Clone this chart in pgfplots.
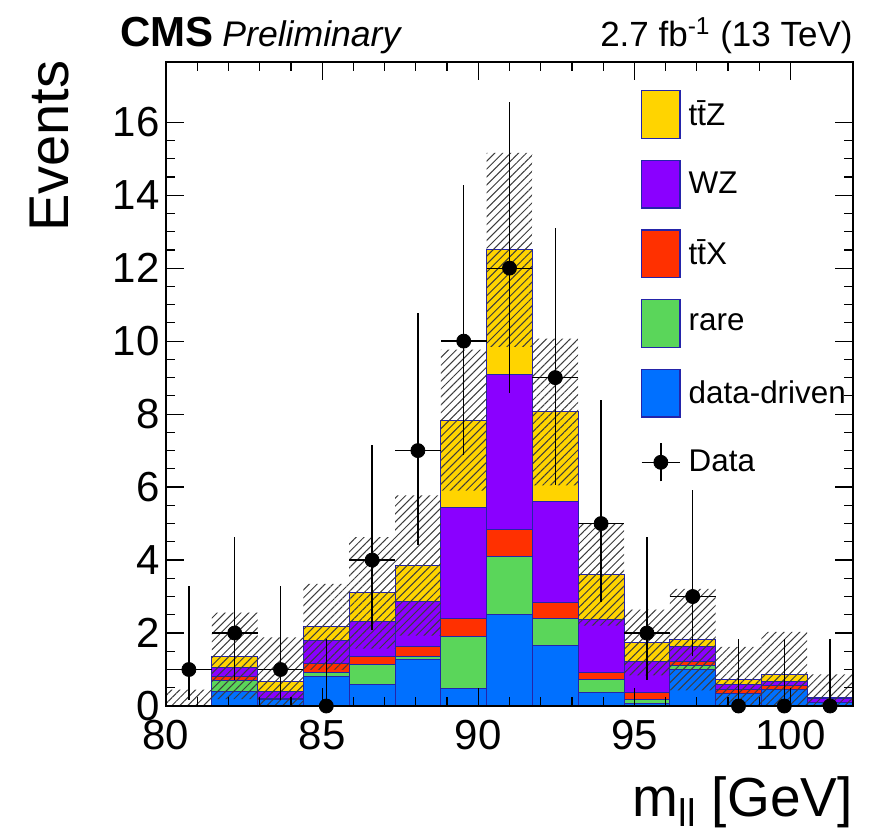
\documentclass[border=0pt]{standalone}
\usepackage{fontspec}
\setmainfont{Liberation Sans}
\usepackage{pgfplots}
\pgfplotsset{compat=1.18}
\usepackage{pgfplotstable}
\usetikzlibrary{patterns.meta}

\definecolor{cttz}{RGB}{255,212,0}
\definecolor{cwz}{RGB}{138,0,255}
\definecolor{cttx}{RGB}{255,48,0}
\definecolor{crare}{RGB}{90,214,90}
\definecolor{cdd}{RGB}{0,112,255}
\definecolor{edgeblue}{RGB}{36,36,170}
\definecolor{hatchgray}{RGB}{60,60,60}

% stacked backgrounds, per bin (bottom to top)
\pgfplotstableread{
x        dd   rare ttx  wz   ttz
80.7333  0.02 0.00 0.00 0.00 0.00
82.2000  0.40 0.29 0.12 0.25 0.31
83.6667  0.17 0.02 0.02 0.18 0.27
85.1333  0.82 0.09 0.26 0.63 0.37
86.6000  0.59 0.55 0.23 0.95 0.78
88.0667  1.28 0.07 0.27 1.25 0.98
89.5333  0.48 1.43 0.48 3.06 2.38
91.0000  2.50 1.60 0.73 4.26 3.41
92.4667  1.67 0.73 0.45 2.76 2.45
93.9333  0.36 0.37 0.18 1.46 1.23
95.4000  0.08 0.11 0.18 0.84 0.53
96.8667  1.01 0.09 0.11 0.43 0.18
98.3333  0.33 0.02 0.10 0.14 0.15
99.8000  0.44 0.01 0.10 0.11 0.21
101.2667 0.09 0.00 0.00 0.12 0.02
}\stack

% total uncertainty band
\pgfplotstableread{
x        lo   hi
80.7333  0.00 0.45
82.2000  0.19 2.56
83.6667  0.00 1.88
85.1333  0.99 3.35
86.6000  1.57 4.63
88.0667  1.93 5.77
89.5333  5.90 9.77
91.0000  9.84 15.16
92.4667  6.05 10.07
93.9333  2.20 5.00
95.4000  0.84 2.64
96.8667  0.43 3.21
98.3333  0.00 1.62
99.8000  0.00 2.03
101.2667 0.00 0.87
}\band

% data with asymmetric errors
\pgfplotstableread{
x        ex     n  up   dn
80.7333  0.7333 1  2.30 0.83
82.2000  0.7333 2  2.64 1.29
83.6667  0.7333 1  2.30 0.83
85.1333  0.7333 0  1.84 0.00
86.6000  0.7333 4  3.16 1.91
88.0667  0.7333 7  3.77 2.58
89.5333  0.7333 10 4.27 3.11
91.0000  0.7333 12 4.55 3.41
92.4667  0.7333 9  4.10 2.94
93.9333  0.7333 5  3.38 2.16
95.4000  0.7333 2  2.64 1.29
96.8667  0.7333 3  2.92 1.63
98.3333  0.7333 0  1.84 0.00
99.8000  0.7333 0  1.84 0.00
101.2667 0.7333 0  1.84 0.00
}\data

\pgfplotsset{
  base/.style={scale only axis, width=343.5pt, height=322pt,
    xmin=80, xmax=102, ymin=0, ymax=17.65, enlargelimits=false},
  legbox/.style={legend image code/.code={
    \draw[##1,draw=edgeblue,line width=0.6pt] (0pt,-11.9pt) rectangle (19.2pt,11.9pt);}},
}

\begin{document}
\begin{tikzpicture}
% stack
\begin{axis}[base, hide axis, ybar stacked, bar width=1.46667,
    every axis plot/.append style={draw=edgeblue, line width=0.5pt}]
\addplot[fill=cdd]   table[x=x, y=dd]   {\stack};
\addplot[fill=crare] table[x=x, y=rare] {\stack};
\addplot[fill=cttx]  table[x=x, y=ttx]  {\stack};
\addplot[fill=cwz]   table[x=x, y=wz]   {\stack};
\addplot[fill=cttz]  table[x=x, y=ttz]  {\stack};
\end{axis}
% uncertainty hatch
\begin{axis}[base, hide axis, ybar stacked, bar width=1.46667]
\addplot[draw=none, fill=none] table[x=x, y=lo] {\band};
\addplot[draw=none, pattern={Lines[angle=45,distance=2.8pt,line width=0.5pt]},
    pattern color=hatchgray] table[x=x, y expr=\thisrow{hi}-\thisrow{lo}] {\band};
\end{axis}
% frame, data, legend
\begin{axis}[base, clip=false,
    axis line style={line width=0.6pt},
    tick style={line width=0.6pt, black},
    tick align=inside, tick pos=both,
    xticklabel pos=lower, yticklabel pos=left,
    xtick={80,85,...,100}, ytick={0,2,...,16},
    minor x tick num=4, minor y tick num=3,
    major tick length=9pt, minor tick length=4.5pt,
    /pgf/number format/assume math mode=true,
    ticklabel style={font=\fontsize{21}{21}\selectfont},
    xticklabel style={inner sep=0pt, yshift=-7pt},
    yticklabel style={inner sep=0pt, xshift=-3pt},
    xlabel={m\textsubscript{ll} [GeV]},
    xlabel style={at={(axis description cs:1,0)}, anchor=base east,
      inner sep=0pt, yshift=-55pt, font=\fontsize{27.5}{28}\selectfont},
    legend style={at={(axis description cs:0.6914,0.9565)}, anchor=north west,
      draw=none, fill=none, inner sep=0pt, outer sep=0pt,
      row sep=10.45pt, column sep=4pt, nodes={inner sep=0pt},
      font=\fontsize{15.7}{18}\selectfont},
    legend cell align=left,
  ]
\addlegendimage{legbox, fill=cttz}
\addlegendentry{t\={t}Z}
\addlegendimage{legbox, fill=cwz}
\addlegendentry{WZ}
\addlegendimage{legbox, fill=cttx}
\addlegendentry{t\={t}X}
\addlegendimage{legbox, fill=crare}
\addlegendentry{rare}
\addlegendimage{legbox, fill=cdd}
\addlegendentry{data-driven}
\addplot[only marks, mark=*, mark size=3.5pt, black,
    legend image code/.code={
      \path[draw=none, fill=none] (0pt,-11.9pt) rectangle (19.2pt,11.9pt);
      \draw[black, line width=0.65pt] (0pt,0pt) -- (19.2pt,0pt) (9.6pt,-9.5pt) -- (9.6pt,9.5pt);
      \fill[black] (9.6pt,0pt) circle (3.5pt);},
    error bars/.cd, x dir=both, x explicit, y dir=both, y explicit,
    error mark=none, error bar style={line width=0.65pt, black}]
  table[x=x, y=n, x error=ex, y error plus=up, y error minus=dn] {\data};
\addlegendentry{Data}
\node[rotate=90, anchor=base east, inner sep=0pt, font=\fontsize{28}{28}\selectfont]
  at (axis description cs:-0.1426,1.003) {Events};
\node[anchor=base west, inner sep=0pt, font=\bfseries\fontsize{21}{21}\selectfont,
    xshift=-23pt, yshift=7.5pt] at (axis description cs:0,1) {CMS};
\node[anchor=base west, inner sep=0pt, font=\itshape\fontsize{17.8}{18}\selectfont,
    xshift=28pt, yshift=7.5pt] at (axis description cs:0,1) {Preliminary};
\node[anchor=base east, inner sep=0pt, font=\fontsize{17.5}{18}\selectfont,
    yshift=7.5pt] at (axis description cs:1,1) {2.7 fb\textsuperscript{-1} (13 TeV)};
\end{axis}
\pgfresetboundingbox
\path ([shift={(-83pt,-62pt)}]current axis.south west)
  rectangle ([shift={(11.5pt,31pt)}]current axis.north east);
\end{tikzpicture}
\end{document}
